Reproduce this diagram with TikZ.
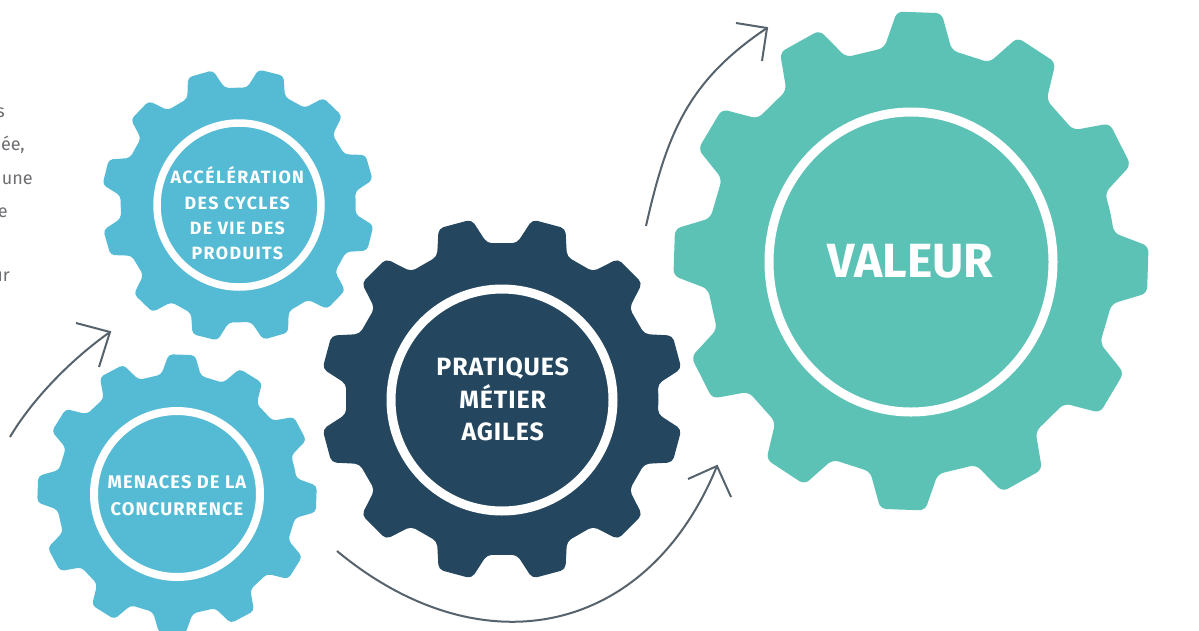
\documentclass[tikz,border=0pt]{standalone}
\usepackage{fontspec}
\setmainfont{Fira Sans}
\newfontfamily\lblA[LetterSpace=6]{Fira Sans}
\newfontfamily\lblC[LetterSpace=8]{Fira Sans}
\newfontfamily\lblB[LetterSpace=3.5]{Fira Sans}
\definecolor{gblue}{HTML}{55BBD5}
\definecolor{gnavy}{HTML}{24475F}
\definecolor{gteal}{HTML}{5CC2B5}
\definecolor{agray}{HTML}{56636C}
\definecolor{tgray}{HTML}{6D6E71}
\newcommand\gearshape[7]{% cx, cy, R, yfactor, phase, color, corner
\begin{scope}[shift={(#1,#2)}, yscale=#4]
\fill[#6, rounded corners=#7] ({#5-15}:{#3*0.86}) \foreach \k in {0,...,11}{
  -- ({#5+30*\k-9.5}:{#3*0.86}) -- ({#5+30*\k-5.4}:{#3}) -- ({#5+30*\k+5.4}:{#3}) -- ({#5+30*\k+9.5}:{#3*0.86})} -- cycle;
\end{scope}}
\tikzset{
  arr/.style={agray, line width=2},
  barb/.style={agray, line width=2, line join=miter},
  ring/.style={white},
  lbl/.style={text=white, align=center, inner sep=0pt},
  ltxt/.style={text=tgray, inner sep=0pt, font=\fontsize{18}{20}\selectfont},
}
\begin{document}
\begin{tikzpicture}[x=1pt, y=-1pt]
\useasboundingbox (0,0) rectangle (1199,630);
\clip (0,0) rectangle (1199,630);
\fill[white] (0,0) rectangle (1199,630);

% left text fragments
\node[ltxt, anchor=base east] (f1) at (5,117) {s};
\node[ltxt, anchor=base east] (f2) at (25,150) {ée,};
\node[ltxt, anchor=base east] (f3) at (33,184) {une};
\node[ltxt, anchor=base east] (f4) at (8,217) {e};
\node[ltxt, anchor=base east] (f5) at (10,281) {ur};

% arrows
\coordinate (a1s) at (10,437);
\coordinate (a1t) at (110,332);
\coordinate (a1l) at (76,323);
\coordinate (a1r) at (99,367);
\draw[arr] (a1s) .. controls (33,398) and (73,358) .. (a1t);
\draw[barb] (a1l) -- (a1t) -- (a1r);

\coordinate (a2s) at (646,226);
\coordinate (a2t) at (767,28);
\coordinate (a2l) at (736,23);
\coordinate (a2r) at (762,61);
\draw[arr] (a2s) .. controls (667,133) and (688,81) .. (a2t);
\draw[barb] (a2l) -- (a2t) -- (a2r);

\coordinate (a3s) at (337,551);
\coordinate (a3t) at (717,466);
\coordinate (a3l) at (688,479);
\coordinate (a3r) at (731,497);
\draw[arr] (a3s) .. controls (479.5,669.4) and (646.7,638) .. (a3t);
\draw[barb] (a3l) -- (a3t) -- (a3r);

% gears
\gearshape{238}{205}{137}{1}{14}{gblue}{4}
\draw[ring, line width=7.5] (239,205) circle[radius=82];
\gearshape{177}{494}{140}{1}{2}{gblue}{4}
\draw[ring, line width=8] (177,494) circle[radius=83];
\gearshape{911}{261}{238}{1.05}{2}{gteal}{6}
\draw[ring, line width=9] (911,262) ellipse[x radius=142, y radius=150];
\gearshape{502}{399}{182}{1}{15}{gnavy}{5}
\draw[ring, line width=9] (502,400) circle[radius=111];

% labels
\node[lbl, font=\lblC\fontsize{17.8}{25.2}\selectfont\bfseries] (acc) at (237.3,213.4) {ACCÉLÉRATION\\DES CYCLES\\DE VIE DES\\PRODUITS};
\node[lbl, font=\lblA\fontsize{18.3}{26.7}\selectfont\bfseries] (men) at (177,495.3) {MENACES DE LA\\CONCURRENCE};
\node[lbl, font=\lblB\fontsize{25}{32.5}\selectfont\bfseries] (pra) at (502.7,399.5) {PRATIQUES\\MÉTIER\\AGILES};
\node[lbl, font=\fontsize{48}{50}\selectfont\bfseries] (val) at (910.5,261.7) {VALEUR};
\end{tikzpicture}
\end{document}
